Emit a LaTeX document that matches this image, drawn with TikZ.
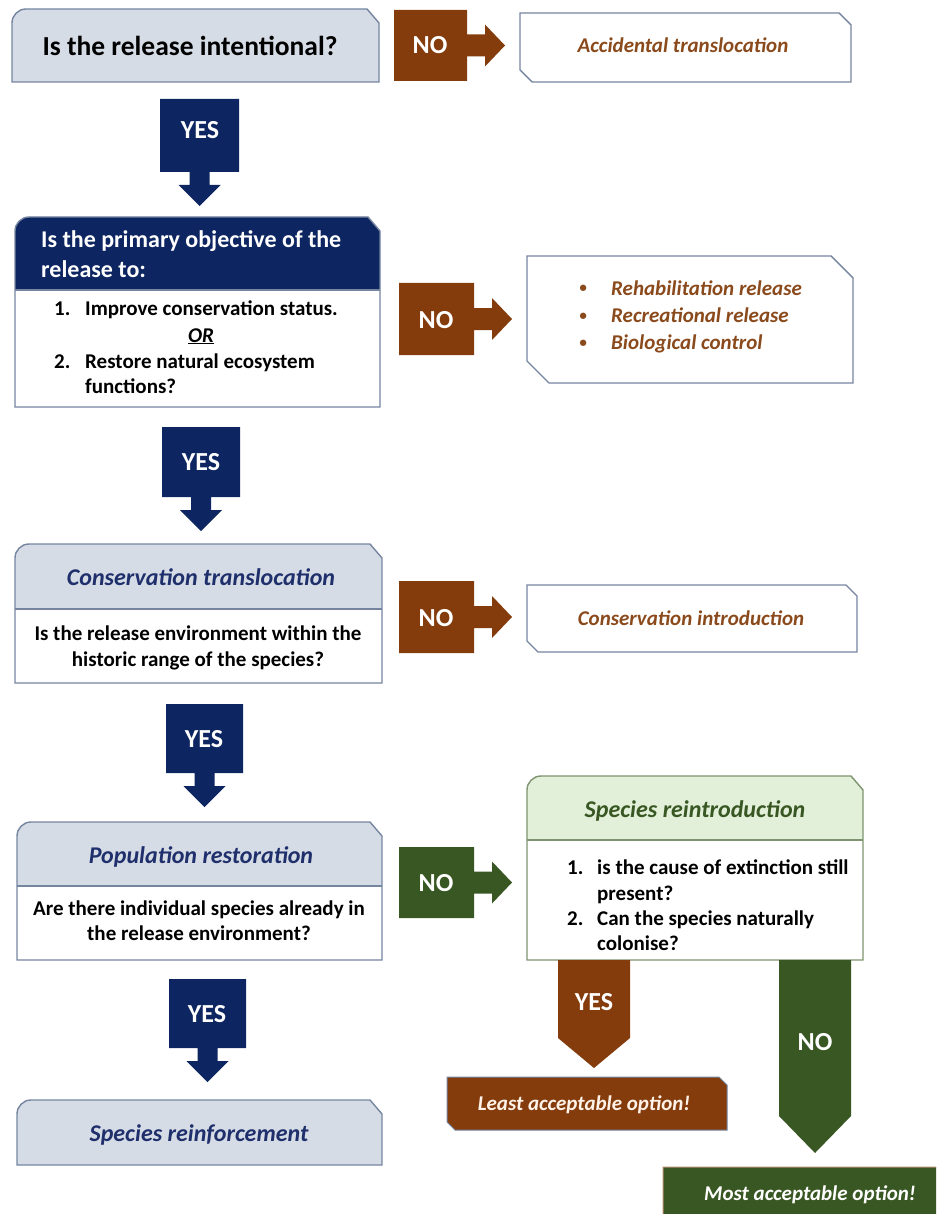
\documentclass[tikz,border=0pt]{standalone}
\usepackage{fontspec}
\setmainfont{Carlito}
\definecolor{navy}{HTML}{0D2560}
\definecolor{brn}{HTML}{843C0C}
\definecolor{grn}{HTML}{385723}
\definecolor{lblue}{HTML}{D6DCE5}
\definecolor{lgreen}{HTML}{E2F0D9}
\definecolor{bord}{HTML}{7585A0}
\definecolor{gbord}{HTML}{7E9470}
\definecolor{hdtext}{HTML}{1F2F6C}
\definecolor{brtext}{HTML}{8A4A1C}
\definecolor{cream}{HTML}{FFF2E8}
% question box: rounded top-left, chamfered top-right
\newcommand\qbox[5]{\path[#5] (#1,#4) -- (#1,#2+14) .. controls (#1,#2+6.3) and (#1+6.3,#2) .. (#1+14,#2) -- (#3-12,#2) -- (#3,#2+14) -- (#3,#4) -- cycle;}
% header box: x1,y1,x2,y2,ymid,headerfill,bodyfill,border
\newcommand\hdrbox[8]{%
  \qbox{#1}{#2}{#3}{#4}{fill=#7}
  \path[fill=#6] (#1,#5) -- (#1,#2+14) .. controls (#1,#2+6.3) and (#1+6.3,#2) .. (#1+14,#2) -- (#3-12,#2) -- (#3,#2+14) -- (#3,#5) -- cycle;
  \draw[#8,line width=1.4pt] (#1,#5) -- (#3,#5);
  \qbox{#1}{#2}{#3}{#4}{draw=#8,line width=1.4pt}}
% result box: x1,y1,x2,y2,chamfer,options
\newcommand\rbox[6]{\path[#6] (#1,#2) -- (#3-#5,#2) -- (#3,#2+#5) -- (#3,#4) -- (#1+#5,#4) -- (#1,#4-#5) -- cycle;}
% right block arrow: x1,y1,x2,y2,colour
\newcommand\rarr[5]{\path[fill=#5] (#1,#2) -- (#3,#2) -- (#3,{(#2+#4)/2-11}) -- (#3+18,{(#2+#4)/2-11}) -- (#3+18,{(#2+#4)/2-21}) -- (#3+38,{(#2+#4)/2}) -- (#3+18,{(#2+#4)/2+21}) -- (#3+18,{(#2+#4)/2+11}) -- (#3,{(#2+#4)/2+11}) -- (#3,#4) -- (#1,#4) -- cycle;}
% down block arrow: x1,y1,x2,y2,colour
\newcommand\darr[5]{\path[fill=#5] (#1,#2) -- (#3,#2) -- (#3,#4) -- ({(#1+#3)/2+10},#4) -- ({(#1+#3)/2+10},#4+13) -- ({(#1+#3)/2+21},#4+13) -- ({(#1+#3)/2},#4+34) -- ({(#1+#3)/2-21},#4+13) -- ({(#1+#3)/2-10},#4+13) -- ({(#1+#3)/2-10},#4) -- (#1,#4) -- cycle;}
% pentagon arrow: x1,y1,x2,y2,tipy,colour
\newcommand\parr[6]{\path[fill=#6] (#1,#2) -- (#3,#2) -- (#3,#4) -- ({(#1+#3)/2},#5) -- (#1,#4) -- cycle;}
\newcommand\bul{{\fontsize{15}{15}\selectfont\textbullet}}
\tikzset{
  lab/.style={text=white,font=\bfseries\fontsize{26}{30}\selectfont,inner sep=0pt,anchor=base},
  bq/.style={font=\bfseries\fontsize{21}{26}\selectfont,inner sep=0pt,anchor=base},
  bql/.style={bq,anchor=base west},
  hdw/.style={font=\bfseries\fontsize{24}{30}\selectfont,text=white,inner sep=0pt,anchor=base west},
  hd/.style={font=\bfseries\itshape\fontsize{24}{30}\selectfont,inner sep=0pt,anchor=base},
  res/.style={font=\bfseries\itshape\fontsize{21}{26}\selectfont,inner sep=0pt,anchor=base},
}
\begin{document}
\begin{tikzpicture}[x=1pt,y=-1pt]
\useasboundingbox (0,0) rectangle (936,1214);
\clip (0,0) rectangle (936,1214);
% ---------- row 1
\qbox{12}{9}{379}{82}{fill=lblue,draw=bord,line width=1.4pt}
\node[font=\bfseries\fontsize{27.5}{32}\selectfont,inner sep=0pt,anchor=base] (q1) at (190,56) {Is the release intentional?};
\rarr{394}{10}{467}{81}{brn}
\node[lab] (no1) at (430,54) {NO};
\rbox{520}{13}{851}{82}{12}{fill=white,draw=bord,line width=1.4pt}
\node[res,text=brtext] (acc) at (683,53) {Accidental translocation};
\darr{160}{99}{239}{172}{navy}
\node[lab] (yes1) at (200,139) {YES};
% ---------- row 2
\hdrbox{15}{217}{380}{407}{290}{navy}{white}{bord}
\node[hdw] (q2a) at (41,248) {Is the primary objective of the};
\node[hdw] (q2b) at (41,278) {release to:};
\node[bql] (i1n) at (54,316) {1.};
\node[bql] (i1t) at (85,316) {Improve conservation status.};
\node[bq,font=\bfseries\itshape\fontsize{21}{26}\selectfont] (or) at (201,342) {\underline{OR}};
\node[bql] (i2n) at (54,368) {2.};
\node[bql] (i2t) at (85,368) {Restore natural ecosystem};
\node[bql] (i2u) at (85,393) {functions?};
\rarr{399}{283}{474}{355}{brn}
\node[lab] (no2) at (436,328) {NO};
\rbox{527}{256}{853}{383}{22}{fill=white,draw=bord,line width=1.4pt}
\node[res,text=brtext] (b1d) at (583,293) {\bul};
\node[res,anchor=base west,text=brtext] (b1) at (611,295) {Rehabilitation release};
\node[res,text=brtext] (b2d) at (583,320) {\bul};
\node[res,anchor=base west,text=brtext] (b2) at (611,322) {Recreational release};
\node[res,text=brtext] (b3d) at (583,347) {\bul};
\node[res,anchor=base west,text=brtext] (b3) at (611,349) {Biological control};
\darr{162}{427}{240}{497}{navy}
\node[lab] (yes2) at (201,470) {YES};
% ---------- row 3
\hdrbox{15}{544}{382}{683}{609}{lblue}{white}{bord}
\node[hd,text=hdtext] (ct) at (201,585) {Conservation translocation};
\node[bq] (q3a) at (198,640) {Is the release environment within the};
\node[bq] (q3b) at (198,666) {historic range of the species?};
\rarr{399}{581}{474}{653}{brn}
\node[lab] (no3) at (436,626) {NO};
\rbox{527}{585}{857}{652}{11}{fill=white,draw=bord,line width=1.4pt}
\node[res,text=brtext] (ci) at (691,625) {Conservation introduction};
\darr{166}{704}{243}{773}{navy}
\node[lab] (yes3) at (204,747) {YES};
% ---------- row 4
\hdrbox{17}{822}{382}{960}{886}{lblue}{white}{bord}
\node[hd,text=hdtext] (pr) at (201,863) {Population restoration};
\node[bq] (q4a) at (199,915) {Are there individual species already in};
\node[bq] (q4b) at (199,940) {the release environment?};
\rarr{399}{847}{474}{918}{grn}
\node[lab] (no4) at (436,891) {NO};
\hdrbox{527}{776}{863}{960}{840}{lgreen}{white}{gbord}
\node[hd,text=grn] (sr) at (695,817) {Species reintroduction};
\node[bql] (s1n) at (567,874) {1.};
\node[bql] (s1t) at (597,874) {is the cause of extinction still};
\node[bql] (s1u) at (597,900) {present?};
\node[bql] (s2n) at (567,925) {2.};
\node[bql] (s2t) at (597,925) {Can the species naturally};
\node[bql] (s2u) at (597,950) {colonise?};
\parr{558}{960}{630}{1038}{1068}{brn}
\node[lab] (yes5) at (594,1010) {YES};
\parr{779}{960}{851}{1116}{1153}{grn}
\node[lab] (no5) at (815,1050) {NO};
\darr{169}{979}{246}{1048}{navy}
\node[lab] (yes4) at (207,1022) {YES};
% ---------- row 5
\qbox{17}{1100}{382}{1165}{fill=lblue,draw=bord,line width=1.4pt}
\node[hd,text=hdtext] (rf) at (199,1141) {Species reinforcement};
\rbox{447}{1077}{727}{1130}{8}{fill=brn,draw=bord,line width=1pt}
\node[res,text=cream] (least) at (584,1110) {Least acceptable option!};
\rbox{663}{1167}{950}{1226}{8}{fill=grn,draw=brn!60,line width=1pt}
\node[res,text=white] (most) at (810,1200) {Most acceptable option!};
\end{tikzpicture}
\end{document}
